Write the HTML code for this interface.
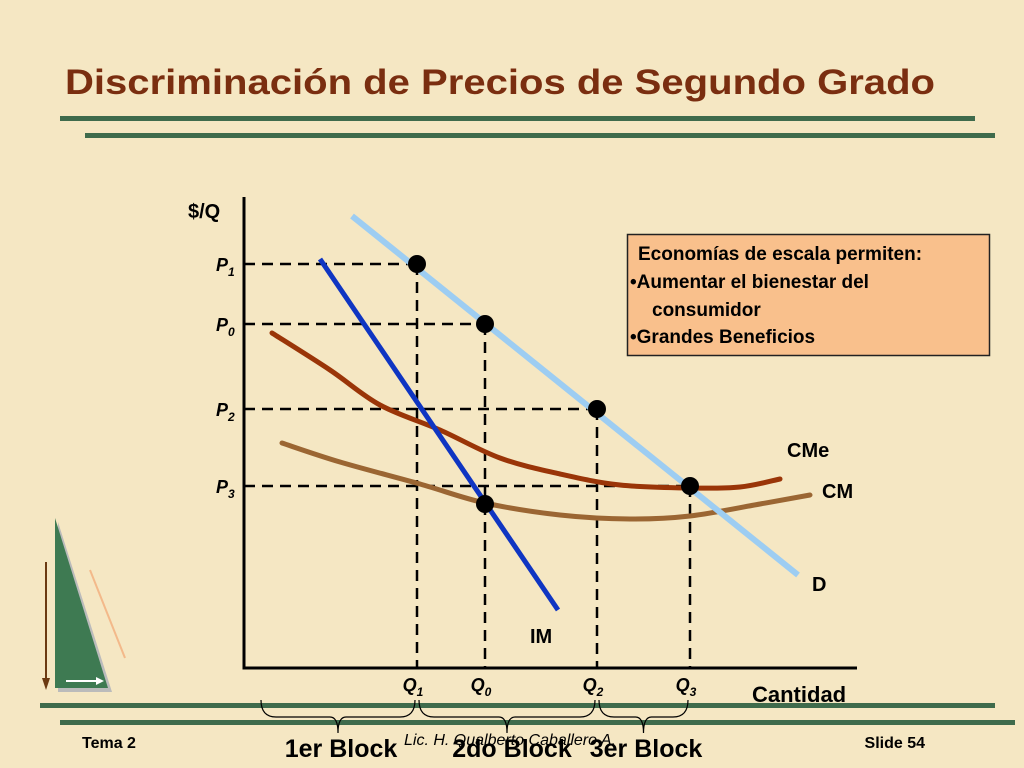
<!DOCTYPE html>
<html><head><meta charset="utf-8"><style>
html,body{margin:0;padding:0;background:#f6e9c6;}
svg{display:block;font-family:"Liberation Sans",sans-serif;}
</style></head><body>
<svg id="s" width="1024" height="768" viewBox="0 0 1024 768">
<rect width="1024" height="768" fill="#f5e7c3"/>
<text x="65" y="94" font-size="35" font-weight="bold" fill="#7a2e10" textLength="870" lengthAdjust="spacingAndGlyphs">Discriminación de Precios de Segundo Grado</text>
<rect x="60" y="116" width="915" height="5" fill="#3f6b4c"/>
<rect x="85" y="133" width="910" height="5" fill="#3f6b4c"/>
<rect x="40" y="703" width="955" height="5" fill="#3f6b4c"/>
<rect x="60" y="720" width="955" height="5" fill="#3f6b4c"/>
<g>
<polygon points="58,522 58,692 112,692" fill="#bbb"/>
<polygon points="55,518 55,688 108,688" fill="#3e7a52"/>
<line x1="46" y1="562" x2="46" y2="680" stroke="#6b3a12" stroke-width="2"/>
<polygon points="42,678 50,678 46,690" fill="#6b3a12"/>
<line x1="125" y1="658" x2="90" y2="570" stroke="#f3b98a" stroke-width="2"/>
<line x1="66" y1="681" x2="98" y2="681" stroke="#fff" stroke-width="2"/>
<polygon points="96,677 104,681 96,685" fill="#fff"/>
</g>
<g id="chart"></g>
<g>
<rect x="627.5" y="234.5" width="362" height="121" fill="#f9c08c" stroke="#222" stroke-width="1.5"/>
<text font-size="19" font-weight="bold" fill="#000">
<tspan x="638" y="260">Economías de escala permiten:</tspan>
<tspan x="630" y="288">•Aumentar el bienestar del</tspan>
<tspan x="652" y="316">consumidor</tspan>
<tspan x="630" y="343">•Grandes Beneficios</tspan></text>
</g>
<text x="82" y="748" font-size="16" font-weight="bold">Tema 2</text>
<text x="510" y="745" text-anchor="middle" font-size="16" font-style="italic">Lic. H. Qualberto Caballero A.</text>
<text x="925" y="748" text-anchor="end" font-size="16" font-weight="bold">Slide 54</text>
</svg>
<script>
const qLabels=["Q1","Q0","Q2","Q3"];
const qValues=[34.6,48.2,70.6,89.2];
const pLabels=["P1","P0","P2","P3"];
const pValues=[101,86,64.75,45.5];
const dQ=[21.6,110.8]; const dP=[113,23.25];
const imQ=[15.2,62.8]; const imP=[102.25,14.5];
const cmeQ=[5.6,17.2,27.2,39.2,51.2,63.2,75.2,89.2,99.2,107.2];
const cmeP=[83.75,74.5,65.75,59.5,52.5,48.5,45.75,45,45.25,47.25];
const cmQ=[7.6,19.2,35.2,48.2,63.2,77.2,89.2,103.2,113.2];
const cmP=[56.25,51.5,46,41.25,38.25,37.25,38,41,43.25];
const dotQ=[34.6,48.2,70.6,89.2,48.2];
const dotP=[101,86,64.75,45.5,41];
const blocks=["1er Block","2do Block","3er Block"];
const X=q=>244+5*q, Y=p=>668-4*p;
const NS="http://www.w3.org/2000/svg", g=document.getElementById('chart');
function el(t,a,txt){const e=document.createElementNS(NS,t);for(const k in a)e.setAttribute(k,a[k]);if(txt!=null)e.textContent=txt;g.appendChild(e);return e;}
function smooth(qs,ps){const pts=qs.map((q,i)=>[X(q),Y(ps[i])]);let d=`M${pts[0]}`;for(let i=0;i<pts.length-1;i++){const p0=pts[i-1]||pts[i],p1=pts[i],p2=pts[i+1],p3=pts[i+2]||p2;d+=` C${p1[0]+(p2[0]-p0[0])/6},${p1[1]+(p2[1]-p0[1])/6} ${p2[0]-(p3[0]-p1[0])/6},${p2[1]-(p3[1]-p1[1])/6} ${p2[0]},${p2[1]}`;}return d;}
pValues.forEach((p,i)=>{const e=el('line',{x1:X(0),y1:Y(p),x2:X(dotQ[i]),y2:Y(p),stroke:'#000','stroke-width':2.5,'stroke-dasharray':'11 7'});

});
qValues.forEach((q,i)=>{const e=el('line',{x1:X(q),y1:Y(dotP[i]),x2:X(q),y2:Y(0),stroke:'#000','stroke-width':2.5,'stroke-dasharray':'11 7'});

});
let e;
e=el('path',{d:smooth(cmQ,cmP),fill:'none',stroke:'#9b6633','stroke-width':5,'stroke-linecap':'round'});


e=el('path',{d:smooth(cmeQ,cmeP),fill:'none',stroke:'#9a3508','stroke-width':5,'stroke-linecap':'round'});


e=el('line',{x1:X(dQ[0]),y1:Y(dP[0]),x2:X(dQ[1]),y2:Y(dP[1]),stroke:'#9dcdf2','stroke-width':6});


e=el('line',{x1:X(imQ[0]),y1:Y(imP[0]),x2:X(imQ[1]),y2:Y(imP[1]),stroke:'#0f35c2','stroke-width':5});


dotQ.forEach((q,i)=>{const c=el('circle',{cx:X(q),cy:Y(dotP[i]),r:9,fill:'#000'});

});
e=el('path',{d:`M${X(0)},197 V${Y(0)} H857`,fill:'none',stroke:'#000','stroke-width':3});


e=el('text',{x:188,y:218,'font-size':20,'font-weight':'bold'},'$/Q');


e=el('text',{x:752,y:702,'font-size':22,'font-weight':'bold'},'Cantidad');


pLabels.forEach((l,i)=>{const t=el('text',{x:216,y:Y(pValues[i])+7,'font-size':18,'font-weight':'bold','font-style':'italic'});t.innerHTML=l[0]+`<tspan font-size="12" dy="5">${l[1]}</tspan>`;

});
qLabels.forEach((l,i)=>{const t=el('text',{x:X(qValues[i])-4,y:691,'font-size':18,'font-weight':'bold','font-style':'italic','text-anchor':'middle'});t.innerHTML=l[0]+`<tspan font-size="12" dy="5">${l[1]}</tspan>`;

});
[['CMe',787,457],['CM',822,498],['D',812,591],['IM',530,643]].forEach(([t,x,y])=>{const n=el('text',{x,y,'font-size':20,'font-weight':'bold'},t);

});
const bx=[X(0)+15,X(qValues[0]),X(qValues[2]),X(qValues[3])];
blocks.forEach((b,i)=>{const a=bx[i]+2,c=bx[i+1]-2,m=(a+c)/2;
const p=el('path',{d:`M${a},700 Q${a},717 ${a+15},717 L${m-8},717 Q${m},717 ${m},733 Q${m},717 ${m+8},717 L${c-15},717 Q${c},717 ${c},700`,fill:'none',stroke:'#000','stroke-width':1.2});

});
[['1er Block',341],['2do Block',512],['3er Block',646]].forEach(([t,x],i)=>{const n=el('text',{x,y:757,'font-size':25,'font-weight':'bold','text-anchor':'middle'},t);

});
</script>
</body></html>
